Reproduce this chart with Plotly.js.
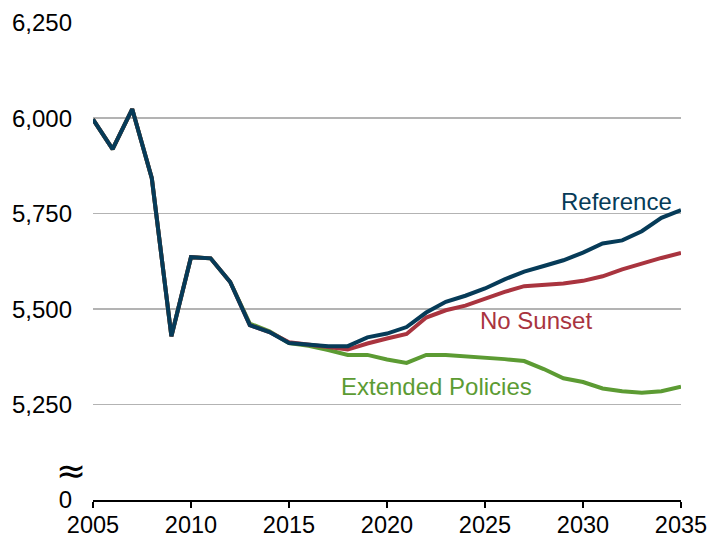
<!DOCTYPE html>
<html>
<head>
<meta charset="utf-8">
<script src="https://cdn.plot.ly/plotly-3.0.1.min.js"></script>
<style>html,body{margin:0;padding:0;background:#fff;}#chart{width:725px;height:539px;}</style>
</head>
<body>
<div id="chart"></div>
<script>
const years = [2005,2006,2007,2008,2009,2010,2011,2012,2013,2014,2015,2016,2017,2018,2019,2020,2021,2022,2023,2024,2025,2026,2027,2028,2029,2030,2031,2032,2033,2034,2035];
const reference = [5997,5919,6024,5843,5429,5636,5633,5571,5458,5440,5411,5408,5403,5403,5426,5436,5453,5491,5519,5535,5554,5578,5598,5613,5628,5648,5672,5680,5704,5739,5759];
const noSunset = [5997,5919,6024,5843,5429,5636,5633,5571,5458,5440,5413,5408,5401,5394,5410,5423,5435,5478,5497,5509,5528,5545,5560,5563,5567,5574,5586,5604,5620,5634,5647];
const extendedPolicies = [5997,5919,6024,5843,5429,5636,5633,5571,5462,5442,5411,5404,5393,5380,5380,5368,5359,5380,5380,5377,5374,5369,5364,5343,5319,5309,5292,5285,5281,5285,5297];
const yTickVals = [5000,5250,5500,5750,6000,6250];
const yTickText = ["0","5,250","5,500","5,750","6,000","6,250"];
const xTickVals = [2005,2010,2015,2020,2025,2030,2035];
const seriesNames = ["Extended Policies","No Sunset","Reference"];

const colors = {ext:"#5c9b33", ns:"#a9343f", ref:"#063b58"};
const font = "Liberation Sans, Arial, sans-serif";
const fs = 24;

const traces = [
  {x: years, y: extendedPolicies, name: seriesNames[0], mode:"lines", line:{color:colors.ext, width:4}},
  {x: years, y: noSunset, name: seriesNames[1], mode:"lines", line:{color:colors.ns, width:4}},
  {x: years, y: reference, name: seriesNames[2], mode:"lines", line:{color:colors.ref, width:4}}
];

const layout = {
  width:725, height:539,
  margin:{l:93, r:44, t:22, b:39},
  paper_bgcolor:"#fff", plot_bgcolor:"#fff",
  showlegend:false,
  font:{family:font, size:fs, color:"#000"},
  xaxis:{
    range:[2005,2035], tickvals:xTickVals, ticktext:xTickVals.map(String),
    showgrid:false, zeroline:false,
    showline:true, linecolor:"#000", linewidth:1.5,
    ticks:"outside", ticklen:6, tickwidth:1.5, tickcolor:"#000",
    ticklabelstandoff:-3,
    tickfont:{family:font, size:23.5, color:"#000"}
  },
  yaxis:{
    range:[5000,6252], tickvals:yTickVals, ticktext:yTickText,
    showgrid:true, gridcolor:"#b3b3b3", gridwidth:1.5,
    zeroline:false, showline:false, ticks:"",
    ticklabelstandoff:20,
    tickfont:{family:font, size:fs, color:"#000"}
  },
  annotations:[
    {x:2035, y:5783, xref:"x", yref:"y", text:"Reference", showarrow:false, xanchor:"right", yanchor:"middle", xshift:-7, font:{family:font, size:fs, color:colors.ref}},
    {x:2027.6, y:5470, xref:"x", yref:"y", text:"No Sunset", showarrow:false, xanchor:"center", yanchor:"middle", font:{family:font, size:fs, color:colors.ns}},
    {x:2022.5, y:5298, xref:"x", yref:"y", text:"Extended Policies", showarrow:false, xanchor:"center", yanchor:"middle", font:{family:font, size:fs, color:colors.ext}},
    {x:-0.037, y:0.06, xref:"paper", yref:"paper", text:"≈", showarrow:false, xanchor:"center", yanchor:"middle", height:18, yshift:1, font:{family:"DejaVu Sans, sans-serif", size:36, color:"#000"}}
  ]
};

Plotly.newPlot("chart", traces, layout, {displayModeBar:false, staticPlot:true});
</script>
</body>
</html>
